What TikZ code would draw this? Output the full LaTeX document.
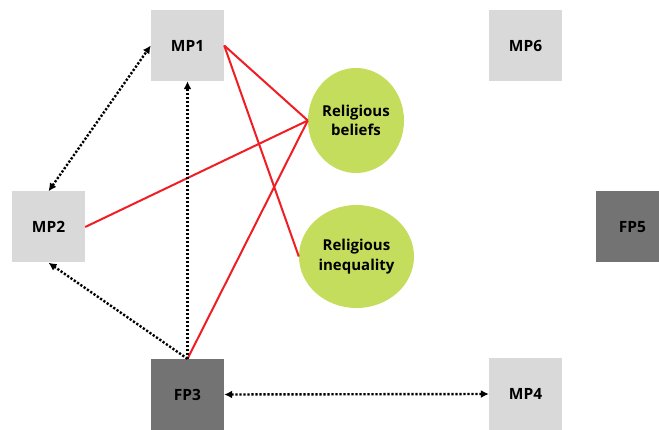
\documentclass[tikz,border=0pt]{standalone}
\usepackage{fontspec}
\setmainfont{Open Sans}
\usetikzlibrary{arrows.meta,shapes.geometric}
\definecolor{boxlight}{RGB}{217,217,217}
\definecolor{boxdark}{RGB}{115,115,115}
\definecolor{topic}{RGB}{197,221,92}
\definecolor{tie}{RGB}{240,30,35}
\begin{document}
\begin{tikzpicture}[x=1pt,y=-1pt,
  person/.style={rectangle, minimum width=73pt, minimum height=71pt, inner sep=0pt,
    font=\fontsize{15.5}{17}\selectfont\bfseries, text=black},
  lightbox/.style={person, fill=boxlight},
  darkbox/.style={person, fill=boxdark},
  theme/.style={ellipse, fill=topic, inner sep=0pt, align=center,
    font=\fontsize{15}{19.5}\selectfont\bfseries, text=black},
  redline/.style={draw=tie, line width=2pt},
  dotlink/.style={draw=black, line width=2.4pt, dash pattern=on 2.2pt off 1.8pt,
    -{Latex[length=8pt,width=8pt]}},
  dotboth/.style={dotlink, {Latex[length=8pt,width=8pt]}-{Latex[length=8pt,width=8pt]}}
]
\useasboundingbox (0,0) rectangle (659,430);
\fill[white] (0,0) rectangle (659,430);

% people
\node[lightbox] (mp1) at (187.5,45.5) {MP1};
\node[lightbox] (mp2) at (48.5,227) {MP2};
\node[darkbox]  (fp3) at (187.5,394.5) {FP3};
\node[lightbox] (mp4) at (525.5,394) {MP4};
\node[darkbox]  (fp5) at (632.5,227) {FP5};
\node[lightbox] (mp6) at (525.5,45.5) {MP6};

% themes
\node[theme, minimum width=96pt, minimum height=105pt] (bel) at (356,120.5) {Religious\\beliefs};
\node[theme, minimum width=115pt, minimum height=103pt] (ineq) at (356.5,256.5) {Religious\\inequality};

% red ties
\draw[redline] (mp1.east) -- (bel.west);
\draw[redline] (mp1.east) -- (ineq.west);
\draw[redline] (mp2.east) -- (bel.west);
\draw[redline] (fp3.north) -- (bel.west);

% dotted links
\draw[dotboth] (mp2.north) -- (mp1.west);
\draw[dotlink] (fp3.north) -- (mp1.south);
\draw[dotlink] (fp3.north) -- (mp2.south);
\draw[dotboth] (fp3.east) -- (mp4.west);
\end{tikzpicture}
\end{document}
